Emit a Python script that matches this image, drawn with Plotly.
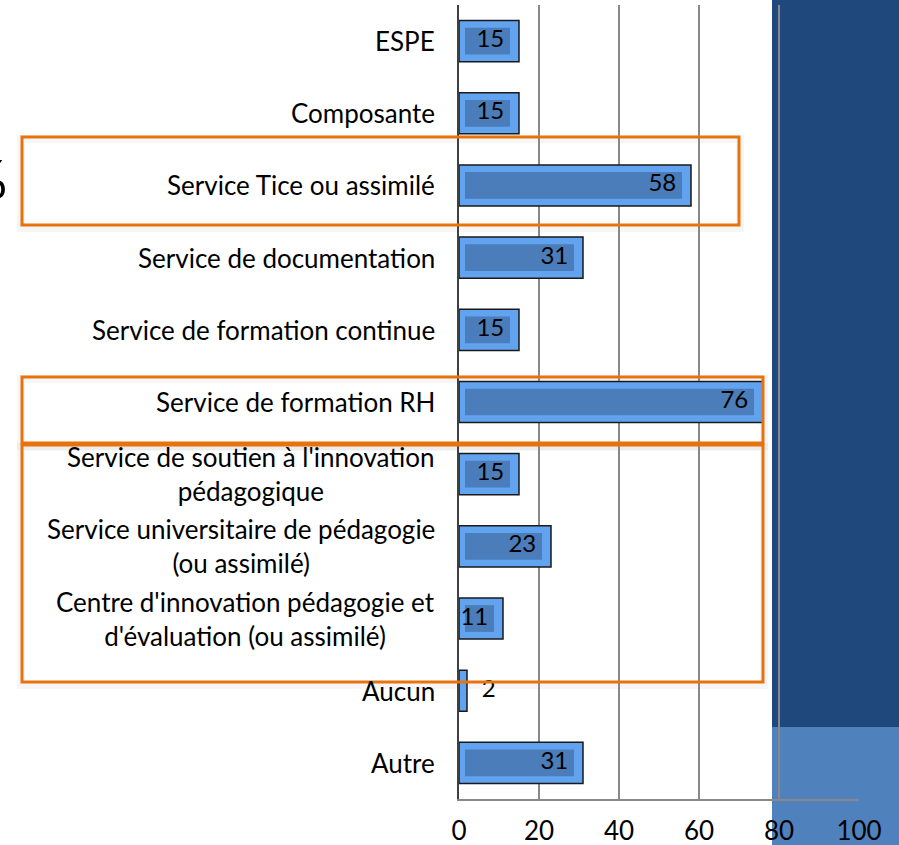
import plotly.graph_objects as go

# Données
categories = [
    "ESPE",
    "Composante",
    "Service Tice ou assimilé",
    "Service de documentation",
    "Service de formation continue",
    "Service de formation RH",
    "Service de soutien à l'innovation<br>pédagogique",
    "Service universitaire de pédagogie<br>(ou assimilé)",
    "Centre d'innovation pédagogie et<br>d'évaluation (ou assimilé)",
    "Aucun",
    "Autre",
]
valeurs = [15, 15, 58, 31, 15, 76, 15, 23, 11, 2, 31]
x_ticks = [0, 20, 40, 60, 80, 100]

W, H = 899, 845
ML, MR, MT, MB = 459, 40, 5, 46
PW, PH = W - ML - MR, H - MT - MB


def px(x):
    return (x - ML) / PW


def py(y):
    return (H - MB - y) / PH


police = "Lato"
orange = "#E8720C"

fig = go.Figure()

# barre extérieure (biseau clair)
fig.add_trace(go.Bar(
    x=valeurs, y=categories, orientation="h", width=0.57,
    marker=dict(color="#62A3F0", line=dict(color="#1a1a1a", width=1.5)),
    hoverinfo="skip", showlegend=False,
))
# partie intérieure plus sombre
interieur = [max(v - 3.75, 0) for v in valeurs]
fig.add_trace(go.Bar(
    x=interieur, y=categories, base=1.5, orientation="h", width=0.37,
    marker=dict(color="#4A7DBA", line=dict(width=0)),
    hoverinfo="skip", showlegend=False,
))
# étiquettes de valeurs
fig.add_trace(go.Scatter(
    x=valeurs, y=categories, mode="markers+text",
    text=[str(v) for v in valeurs],
    textposition=["middle left" if v >= 5 else "middle right" for v in valeurs],
    textfont=dict(family=police, size=24, color="black"),
    marker=dict(size=22, color="rgba(0,0,0,0)"),
    hoverinfo="skip", showlegend=False, cliponaxis=False,
))

# libellés des catégories (centrés sur plusieurs lignes)
for c in categories:
    fig.add_annotation(
        x=0, xref="paper", y=c, yref="y", text=c, showarrow=False,
        xanchor="right", align="center", xshift=-22,
        font=dict(family=police, size=26, color="black"),
    )

fig.add_annotation(
    x=px(9), xref="paper", y=py(178), yref="paper", text="%", showarrow=False,
    xanchor="right", yanchor="middle", font=dict(family=police, size=54, color="black"),
)

formes = [
    # fond bleu à droite
    dict(type="rect", xref="paper", yref="paper", x0=px(772), x1=px(W + 5),
         y0=py(727), y1=py(-5), fillcolor="#1F497D", line=dict(width=0), layer="below"),
    dict(type="rect", xref="paper", yref="paper", x0=px(772), x1=px(W + 5),
         y0=py(H + 5), y1=py(727), fillcolor="#4F81BD", line=dict(width=0), layer="below"),
]
cadres = [(22, 739, 137, 225), (22, 763, 377, 443), (22, 763, 445, 682)]
for x0, x1, y0, y1 in cadres:
    formes.append(dict(type="rect", xref="paper", yref="paper",
                       x0=px(x0 - 1), x1=px(x1 + 1), y0=py(y1 + 3), y1=py(y0 + 2),
                       line=dict(color="rgba(0,0,0,0.035)", width=8), layer="below"))
for x0, x1, y0, y1 in cadres:
    formes.append(dict(type="rect", xref="paper", yref="paper",
                       x0=px(x0), x1=px(x1), y0=py(y1), y1=py(y0),
                       line=dict(color=orange, width=3), layer="above"))

fig.update_layout(
    width=W, height=H,
    margin=dict(l=ML, r=MR, t=MT, b=MB, autoexpand=False),
    barmode="overlay",
    paper_bgcolor="white",
    plot_bgcolor="rgba(0,0,0,0)",
    shapes=formes,
    showlegend=False,
    xaxis=dict(
        range=[0, 100], tickvals=x_ticks, showgrid=True, gridcolor="#888888", gridwidth=2,
        showline=True, linecolor="#888888", linewidth=2, zeroline=False,
        ticks="outside", ticklen=8, tickcolor="rgba(0,0,0,0)",
        tickfont=dict(family=police, size=26, color="black"),
        fixedrange=True, automargin=False,
    ),
    yaxis=dict(
        range=[len(categories) - 0.5, -0.5], showticklabels=False, showgrid=False,
        showline=True, linecolor="#404040", linewidth=1.5, zeroline=False,
        fixedrange=True, automargin=False,
    ),
)

fig.write_html("out.html", post_script="document.body.style.margin='0';",
               config={"displayModeBar": False})
